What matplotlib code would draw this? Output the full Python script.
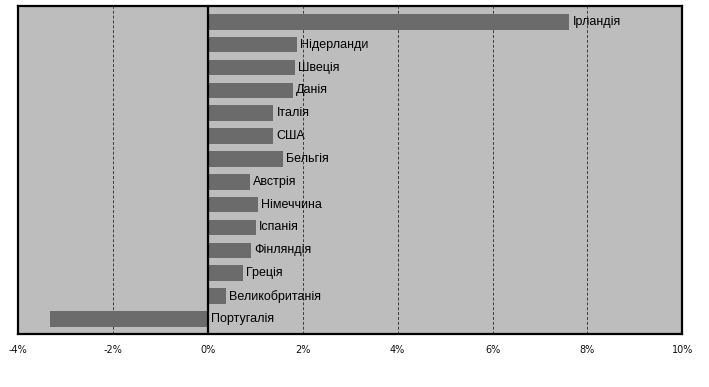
import matplotlib.pyplot as plt
import numpy as np

countries = ["Ірландія", "Нідерланди", "Швеція", "Данія", "Італія", "США",
             "Бельгія", "Австрія", "Німеччина", "Іспанія", "Фінляндія",
             "Греція", "Великобританія", "Португалія"]
values = [7.62, 1.88, 1.84, 1.79, 1.38, 1.37, 1.58, 0.88, 1.05, 1.01,
          0.91, 0.74, 0.38, -3.33]
xticks = [-4, -2, 0, 2, 4, 6, 8, 10]

fig = plt.figure(figsize=(7.09, 3.87), dpi=100)
ax = fig.add_axes([0.0254, 0.137, 0.937, 0.848])
ax.set_facecolor("#bdbdbd")

y = np.arange(len(countries))
ax.barh(y, values, height=0.68, color="#6b6b6b", zorder=3)

# grid
for t in xticks:
    if t in (-4, 0, 10):
        continue
    ax.axvline(t, color="#3a3a3a", lw=0.7, ls=(0, (3, 2)), zorder=1)
ax.axvline(0, color="black", lw=1.6, zorder=4)

for yi, v, name in zip(y, values, countries):
    xpos = max(v, 0) + 0.07
    ax.text(xpos, yi, name, va="center", ha="left", fontsize=9,
            family="Liberation Sans", color="black", zorder=5)

ax.set_xlim(-4, 10)
ax.set_ylim(len(countries) - 0.34, -0.7)
ax.set_xticks(xticks)
ax.set_xticklabels([f"{t}%" for t in xticks], fontsize=7, color="#111111")
ax.tick_params(axis="x", length=0, pad=8)
ax.set_yticks([])
for s in ax.spines.values():
    s.set_linewidth(1.6)
    s.set_color("black")

fig.savefig("out.png", dpi=100)
